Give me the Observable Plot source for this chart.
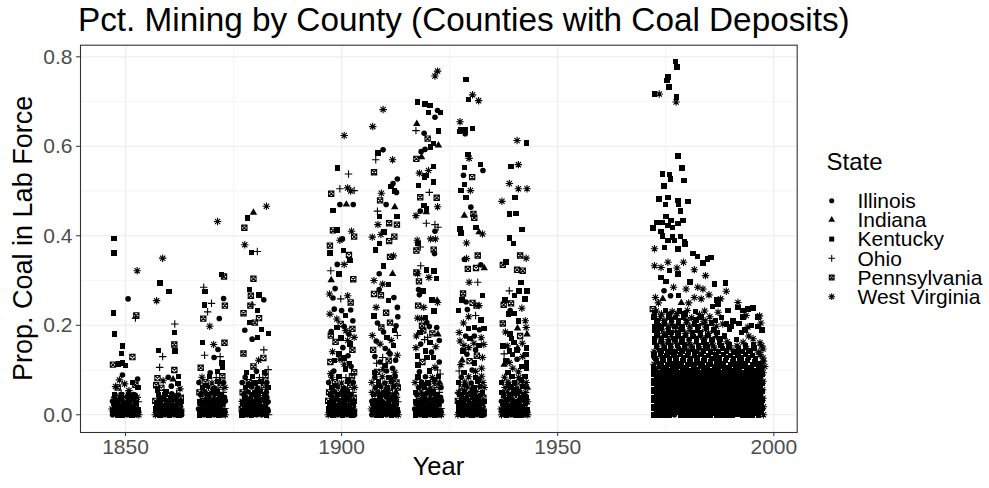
<!DOCTYPE html>
<html>
<head>
<meta charset="utf-8">
<script src="https://cdn.jsdelivr.net/npm/d3@7"></script>
<script src="https://cdn.jsdelivr.net/npm/@observablehq/plot@0.6"></script>
<style>
html, body { margin: 0; padding: 0; background: #ffffff; }
#chart { position: relative; width: 989px; height: 488px; font-family: "Liberation Sans", Arial, Helvetica, sans-serif; }
#chart svg { position: absolute; left: 0; top: 0; }
</style>
</head>
<body>
<div id="chart"></div>
<script>
// States in legend order
const states = [
  {code: "IL", name: "Illinois"},
  {code: "IN", name: "Indiana"},
  {code: "KY", name: "Kentucky"},
  {code: "OH", name: "Ohio"},
  {code: "PA", name: "Pennsylvania"},
  {code: "WV", name: "West Virginia"}
];

const titleText = "Pct. Mining by County (Counties with Coal Deposits)";
const xLabel = "Year";
const yLabel = "Prop. Coal in Lab Force";
const legendTitle = "State";

const xTicks = [1850, 1900, 1950, 2000];
const xMinorTicks = [1875, 1925, 1975];
const yTicks = [0, 0.2, 0.4, 0.6, 0.8];
const yMinorTicks = [0.1, 0.3, 0.5, 0.7];

// County observations: [jittered year, share of labour force in coal, state]
const census1850 = [
  [1847.3,.394,"KY"],[1847.3,.362,"KY"],[1852.7,.322,"WV"],[1850.6,.259,"IL"],[1847.2,.227,"KY"],[1852.5,.222,"PA"],[1852.3,.216,"OH"],[1847.5,.180,"KY"],[1849.3,.154,"KY"],[1849.1,.137,"KY"],[1851.6,.129,"PA"],[1847.1,.112,"PA"],[1848.4,.114,"KY"],[1849.3,.116,"KY"],[1850.0,.110,"KY"],[1849.3,.089,"IL"],
  [1847.7,.063,"WV"],[1849.8,.069,"WV"],[1848.2,.061,"PA"],[1852.3,.067,"PA"],[1851.6,.072,"KY"],[1852.9,.061,"KY"],[1850.8,.054,"WV"],[1849.0,.048,"OH"],[1851.9,.045,"IL"],[1847.4,.042,"IN"],[1852.8,.080,"IL"],[1848.6,.078,"WV"],
  [1847.0,0,"IL"],[1848.1,0,"KY"],[1849.2,0,"KY"],[1850.4,0,"IL"],[1851.5,0,"KY"],[1852.6,0,"IL"],[1853.1,0,"WV"],
  [1847.5,.006,"KY"],[1848.7,.005,"IL"],[1849.9,.007,"KY"],[1851.0,.006,"IL"],[1852.2,.005,"IN"],
  [1846.9,.013,"WV"],[1848.0,.014,"KY"],[1849.3,.012,"IL"],[1850.5,.013,"KY"],[1851.7,.015,"IL"],[1852.9,.012,"KY"],
  [1847.4,.021,"KY"],[1848.6,.022,"IL"],[1849.8,.020,"KY"],[1851.1,.021,"IL"],[1852.4,.023,"PA"],
  [1847.0,.030,"IL"],[1848.2,.031,"KY"],[1849.5,.029,"IL"],[1850.8,.030,"KY"],[1852.0,.032,"IL"],[1853.0,.029,"OH"],
  [1847.7,.039,"PA"],[1849.0,.038,"KY"],[1850.3,.040,"IL"],[1851.5,.037,"KY"],[1852.7,.039,"WV"],
  [1847.6,.003,"KY"],[1849.7,.002,"IL"],[1851.9,.003,"KY"],[1848.6,.017,"IL"],[1850.9,.017,"KY"],[1847.2,.026,"KY"],[1850.2,.025,"IL"],[1852.6,.026,"KY"],[1848.8,.034,"IL"],[1851.4,.034,"KY"],[1847.4,.045,"KY"],[1852.2,.044,"IL"],
  [1847.1,.009,"KY"],[1848.3,.010,"IL"],[1849.5,.009,"KY"],[1850.8,.010,"IL"],[1852.0,.009,"KY"],[1853.0,.008,"IL"],[1847.9,.028,"IL"],[1849.8,.018,"KY"],[1851.9,.018,"IL"],[1849.1,.045,"KY"],[1850.7,.047,"IL"]
];

const census1860 = [
  [1858.6,.350,"WV"],[1858.0,.294,"KY"],[1860.1,.276,"KY"],[1857.2,.255,"WV"],[1861.4,.203,"OH"],[1861.3,.184,"KY"],[1861.3,.157,"PA"],[1857.6,.144,"KY"],[1861.5,.142,"KY"],[1858.6,.130,"OH"],[1857.9,.106,"OH"],[1861.3,.100,"PA"],[1862.3,.085,"KY"],
  [1857.4,.082,"PA"],[1858.7,.076,"WV"],[1859.9,.084,"IL"],[1861.0,.079,"IN"],[1862.2,.070,"KY"],[1857.1,.066,"PA"],[1858.3,.060,"PA"],[1860.6,.064,"IL"],[1862.6,.058,"WV"],[1859.4,.052,"KY"],[1861.8,.047,"OH"],[1857.6,.045,"KY"],
  [1856.9,0,"WV"],[1858.0,0,"KY"],[1859.1,0,"IL"],[1860.2,0,"KY"],[1861.3,0,"IL"],[1862.4,0,"KY"],[1863.0,0,"IL"],
  [1857.4,.007,"IL"],[1858.6,.006,"KY"],[1859.7,.005,"IL"],[1860.8,.007,"KY"],[1862.0,.006,"IN"],
  [1857.0,.014,"KY"],[1858.1,.013,"IL"],[1859.2,.015,"KY"],[1860.4,.012,"IL"],[1861.6,.014,"KY"],[1862.8,.013,"WV"],
  [1857.6,.022,"IL"],[1858.8,.021,"KY"],[1860.0,.023,"IL"],[1861.2,.020,"KY"],[1862.5,.022,"PA"],
  [1856.9,.031,"PA"],[1858.1,.030,"KY"],[1859.4,.032,"IL"],[1860.7,.029,"KY"],[1861.9,.031,"IL"],[1863.0,.030,"KY"],
  [1857.8,.040,"IL"],[1859.1,.041,"WV"],[1860.4,.039,"KY"],[1861.6,.040,"IL"],[1862.8,.038,"PA"],
  [1857.6,.003,"KY"],[1859.7,.002,"IL"],[1861.9,.003,"KY"],[1858.6,.017,"IL"],[1860.9,.017,"KY"],[1857.2,.026,"KY"],[1860.2,.025,"IL"],[1862.6,.026,"KY"],[1858.8,.034,"IL"],[1861.4,.034,"KY"],[1857.4,.055,"KY"],[1862.2,.044,"IL"],
  [1857.1,.009,"KY"],[1858.3,.010,"IL"],[1859.5,.009,"KY"],[1860.8,.010,"IL"],[1862.0,.009,"KY"],[1863.0,.008,"IL"],[1857.9,.028,"IL"],[1859.8,.018,"KY"],[1861.9,.018,"IL"],[1859.1,.045,"KY"],[1860.7,.047,"IL"]
];

const census1870 = [
  [1871.3,.432,"WV"],[1868.1,.285,"OH"],[1868.4,.275,"KY"],[1872.8,.309,"PA"],[1872.2,.313,"KY"],[1869.9,.249,"OH"],[1868.3,.245,"KY"],[1873.0,.244,"PA"],[1872.7,.260,"IL"],[1869.0,.230,"OH"],[1871.7,.215,"IL"],[1868.0,.215,"PA"],[1869.5,.198,"WV"],[1867.8,.162,"KY"],[1870.4,.157,"WV"],[1872.9,.161,"PA"],[1871.4,.146,"IL"],[1868.3,.133,"OH"],[1871.9,.130,"OH"],[1870.5,.128,"IL"],[1867.4,.105,"PA"],[1872.5,.106,"KY"],[1872.3,.116,"KY"],[1869.6,.094,"IL"],[1871.3,.097,"KY"],
  [1867.1,0,"KY"],[1868.2,0,"IL"],[1869.3,0,"KY"],[1870.5,0,"IL"],[1871.6,0,"KY"],[1872.7,0,"IL"],[1873.1,0,"WV"],
  [1867.6,.006,"IL"],[1868.8,.007,"KY"],[1870.0,.005,"IL"],[1871.1,.006,"KY"],[1872.3,.007,"PA"],
  [1866.9,.013,"IL"],[1868.1,.012,"KY"],[1869.4,.014,"IL"],[1870.6,.013,"KY"],[1871.8,.012,"IL"],[1873.0,.014,"OH"],
  [1867.5,.021,"WV"],[1868.7,.022,"KY"],[1869.9,.021,"IL"],[1871.2,.020,"KY"],[1872.5,.022,"IL"],
  [1867.1,.030,"KY"],[1868.3,.029,"IL"],[1869.6,.031,"KY"],[1870.9,.030,"IL"],[1872.1,.029,"KY"],[1873.1,.031,"IL"],
  [1867.9,.039,"PA"],[1869.2,.040,"IL"],[1870.5,.038,"WV"],[1871.7,.040,"KY"],[1872.9,.039,"IL"],
  [1867.1,.050,"PA"],[1868.4,.051,"IL"],[1869.8,.049,"WV"],[1871.2,.052,"KY"],[1872.6,.050,"OH"],
  [1867.8,.061,"KY"],[1869.2,.062,"WV"],[1870.6,.060,"IL"],[1872.0,.063,"PA"],[1873.0,.061,"WV"],
  [1867.0,.072,"IL"],[1868.5,.073,"PA"],[1870.0,.071,"WV"],[1871.4,.074,"KY"],[1872.7,.072,"IL"],
  [1867.7,.084,"WV"],[1869.4,.085,"KY"],[1871.0,.083,"OH"],[1872.4,.086,"PA"],
  [1867.6,.003,"IL"],[1869.7,.002,"KY"],[1871.9,.003,"IL"],[1868.6,.017,"KY"],[1870.9,.017,"IL"],[1867.2,.026,"IL"],[1870.2,.025,"KY"],[1872.6,.026,"IL"],[1868.8,.034,"KY"],[1871.4,.034,"IL"],[1867.4,.045,"IL"],[1872.2,.044,"KY"],[1870.4,.056,"KY"],[1868.6,.066,"IL"],
  [1867.1,.009,"KY"],[1868.3,.010,"IL"],[1869.5,.009,"KY"],[1870.8,.010,"IL"],[1872.0,.009,"KY"],[1873.0,.008,"IL"],[1867.9,.028,"IL"],[1869.8,.018,"KY"],[1871.9,.018,"IL"],[1869.1,.045,"KY"],[1870.7,.047,"IL"]
];

const census1880 = [
  [1879.6,.452,"IN"],[1878.2,.440,"KY"],[1882.6,.466,"WV"],[1877.5,.418,"PA"],[1877.6,.380,"WV"],[1879.2,.363,"KY"],[1880.5,.365,"OH"],[1879.6,.304,"PA"],[1878.7,.280,"KY"],[1879.0,.266,"PA"],[1880.9,.268,"KY"],[1882.0,.257,"IL"],[1877.3,.227,"PA"],[1880.5,.233,"KY"],[1879.3,.246,"OH"],[1878.9,.244,"PA"],[1880.9,.216,"PA"],[1879.9,.206,"PA"],[1878.7,.206,"KY"],[1883.1,.182,"KY"],[1881.5,.191,"KY"],[1877.6,.189,"IL"],[1879.3,.169,"IL"],[1880.5,.173,"KY"],[1882.0,.145,"OH"],[1883.0,.101,"OH"],[1877.3,.137,"PA"],[1881.9,.127,"PA"],[1879.6,.108,"PA"],[1880.8,.122,"WV"],
  [1877.0,0,"KY"],[1878.1,0,"IL"],[1879.2,0,"KY"],[1880.4,0,"IL"],[1881.5,0,"IL"],[1882.6,0,"KY"],[1883.1,0,"OH"],
  [1877.5,.006,"IL"],[1878.7,.005,"KY"],[1879.9,.007,"KY"],[1881.0,.006,"IL"],[1882.2,.005,"WV"],
  [1876.9,.013,"PA"],[1878.0,.014,"KY"],[1879.3,.012,"IL"],[1880.5,.013,"KY"],[1881.7,.015,"KY"],[1882.9,.012,"IL"],
  [1877.4,.021,"IL"],[1878.6,.022,"KY"],[1879.8,.020,"IL"],[1881.1,.021,"IL"],[1882.4,.023,"KY"],
  [1877.0,.030,"WV"],[1878.2,.031,"IL"],[1879.5,.029,"KY"],[1880.8,.030,"IL"],[1882.0,.032,"KY"],[1883.0,.029,"IL"],
  [1877.7,.039,"KY"],[1879.0,.038,"IL"],[1880.3,.040,"KY"],[1881.5,.037,"PA"],[1882.7,.039,"IL"],
  [1877.1,.050,"PA"],[1878.4,.051,"IL"],[1879.8,.049,"KY"],[1881.2,.052,"KY"],[1882.6,.050,"IL"],
  [1877.8,.061,"KY"],[1879.2,.062,"IL"],[1880.6,.060,"IL"],[1882.0,.063,"PA"],[1883.0,.061,"KY"],
  [1877.0,.072,"IL"],[1878.5,.073,"PA"],[1880.0,.071,"KY"],[1881.4,.074,"KY"],[1882.7,.072,"IL"],
  [1877.7,.084,"IL"],[1879.4,.085,"KY"],[1881.0,.083,"OH"],[1882.4,.086,"PA"],
  [1878.0,.095,"KY"],[1880.3,.097,"IL"],[1882.2,.094,"KY"],
  [1877.6,.003,"IL"],[1879.7,.002,"KY"],[1881.9,.003,"IL"],[1878.6,.017,"IL"],[1880.9,.017,"KY"],[1877.2,.026,"KY"],[1880.2,.025,"IL"],[1882.6,.026,"IL"],[1878.8,.034,"KY"],[1881.4,.034,"IL"],[1877.4,.045,"IL"],[1882.2,.044,"KY"],[1880.4,.056,"IL"],[1878.6,.066,"KY"],
  [1877.1,.009,"KY"],[1878.3,.010,"IL"],[1879.5,.009,"KY"],[1880.8,.010,"IL"],[1882.0,.009,"KY"],[1883.0,.008,"IL"],[1877.9,.028,"IL"],[1879.8,.018,"KY"],[1881.9,.018,"IL"],[1879.1,.045,"KY"],[1880.7,.047,"IL"]
];

const census1900 = [
  [1900.6,.624,"WV"],[1899.0,.551,"KY"],[1901.6,.538,"OH"],[1897.6,.494,"PA"],[1899.6,.505,"OH"],[1901.4,.507,"WV"],[1902.1,.500,"WV"],[1902.9,.501,"OH"],[1899.6,.470,"IL"],[1902.7,.470,"IL"],[1901.1,.470,"IN"],[1898.0,.456,"KY"],[1898.9,.413,"KY"],[1898.0,.412,"PA"],[1902.3,.410,"WV"],[1902.9,.398,"PA"],[1900.2,.393,"IL"],[1899.6,.390,"WV"],[1897.3,.378,"PA"],[1897.3,.361,"KY"],[1900.4,.367,"KY"],[1901.7,.357,"PA"],[1902.0,.345,"KY"],[1899.0,.336,"IL"],[1900.6,.336,"WV"],[1897.5,.322,"OH"],[1899.4,.315,"KY"],[1902.7,.303,"PA"],[1897.6,.301,"IN"],[1897.2,.270,"WV"],[1898.5,.282,"IL"],
  [1898.0,.261,"IL"],[1899.8,.259,"OH"],[1901.4,.266,"WV"],[1902.1,.251,"PA"],[1898.3,.236,"IL"],[1900.0,.233,"IL"],[1902.1,.234,"IL"],[1897.3,.225,"WV"],[1899.8,.203,"PA"],[1898.9,.195,"KY"],[1900.6,.197,"IL"],[1902.5,.192,"PA"],[1897.5,.177,"PA"],[1901.7,.180,"IL"],[1902.9,.173,"WV"],[1901.4,.166,"WV"],[1899.4,.136,"KY"],[1900.6,.127,"KY"],[1898.3,.121,"KY"],[1902.5,.145,"PA"],[1902.9,.095,"PA"],[1897.5,.092,"WV"],[1900.6,.113,"WV"],[1901.8,.115,"KY"],
  [1898.2,.098,"IL"],[1900.9,.102,"KY"],[1902.2,.108,"IL"],[1897.4,.118,"PA"],[1899.6,.124,"WV"],[1901.5,.132,"IL"],[1897.9,.141,"WV"],[1900.3,.150,"IL"],[1902.0,.158,"KY"],[1898.6,.163,"PA"],[1899.9,.172,"KY"],[1897.6,.186,"IL"],[1901.0,.188,"WV"],[1902.6,.210,"IL"],[1898.9,.214,"WV"],[1900.9,.222,"KY"],
  [1896.9,0,"WV"],[1898.0,0,"KY"],[1899.1,0,"IL"],[1900.2,0,"KY"],[1901.3,0,"IL"],[1902.4,0,"KY"],[1903.0,0,"IL"],
  [1897.4,.007,"IL"],[1898.6,.006,"KY"],[1899.7,.005,"IL"],[1900.8,.007,"KY"],[1902.0,.006,"IN"],
  [1897.0,.014,"KY"],[1898.1,.013,"IL"],[1899.2,.015,"KY"],[1900.4,.012,"IL"],[1901.6,.014,"KY"],[1902.8,.013,"WV"],
  [1897.6,.022,"IL"],[1898.8,.021,"KY"],[1900.0,.023,"IL"],[1901.2,.020,"KY"],[1902.5,.022,"PA"],
  [1896.9,.031,"PA"],[1898.1,.030,"KY"],[1899.4,.032,"IL"],[1900.7,.029,"KY"],[1901.9,.031,"IL"],[1903.0,.030,"KY"],
  [1897.8,.040,"IL"],[1899.1,.041,"WV"],[1900.4,.039,"KY"],[1901.6,.040,"IL"],[1902.8,.038,"PA"],
  [1897.1,.050,"PA"],[1898.4,.051,"IL"],[1899.8,.049,"WV"],[1901.2,.052,"KY"],[1902.6,.050,"OH"],
  [1897.8,.061,"KY"],[1899.2,.062,"WV"],[1900.6,.060,"IL"],[1902.0,.063,"PA"],[1903.0,.061,"WV"],
  [1897.0,.072,"IL"],[1898.5,.073,"PA"],[1900.0,.071,"WV"],[1901.4,.074,"KY"],[1902.7,.072,"IL"],
  [1897.7,.084,"WV"],[1899.4,.085,"KY"],[1901.0,.083,"OH"],[1902.4,.086,"PA"],
  [1897.6,.003,"KY"],[1899.7,.002,"IL"],[1901.9,.003,"KY"],[1898.6,.017,"IL"],[1900.9,.017,"KY"],[1897.2,.026,"KY"],[1900.2,.025,"IL"],[1902.6,.026,"KY"],[1898.8,.034,"IL"],[1901.4,.034,"KY"],[1897.4,.045,"KY"],[1902.2,.044,"IL"],[1900.4,.056,"KY"],[1898.6,.066,"IL"],[1901.6,.078,"KY"],
  [1897.1,.009,"KY"],[1898.3,.010,"IL"],[1899.5,.009,"KY"],[1900.8,.010,"IL"],[1902.0,.009,"KY"],[1903.0,.008,"IL"],[1897.9,.028,"IL"],[1899.8,.018,"KY"],[1901.9,.018,"IL"],[1899.1,.045,"KY"],[1900.7,.047,"IL"]
];

const census1910 = [
  [1909.6,.682,"WV"],[1907.2,.644,"WV"],[1908.4,.585,"KY"],[1909.6,.592,"IL"],[1907.9,.570,"OH"],[1911.8,.570,"WV"],[1907.5,.542,"PA"],[1912.9,.527,"IL"],[1911.4,.510,"KY"],[1912.2,.500,"KY"],[1912.7,.497,"IL"],[1911.9,.517,"IL"],[1909.2,.495,"WV"],[1908.9,.479,"PA"],[1910.3,.470,"IL"],[1912.3,.464,"IN"],[1908.3,.455,"OH"],[1908.8,.443,"KY"],[1912.8,.443,"KY"],[1911.0,.428,"PA"],[1912.8,.425,"PA"],[1908.4,.425,"WV"],[1909.8,.408,"KY"],[1907.1,.397,"WV"],[1909.1,.403,"WV"],[1912.2,.398,"PA"],[1908.8,.383,"KY"],[1907.9,.368,"KY"],[1911.0,.388,"PA"],[1911.2,.353,"PA"],[1912.0,.355,"WV"],
  [1909.7,.333,"KY"],[1911.8,.315,"IN"],[1908.7,.315,"IL"],[1907.5,.300,"WV"],[1909.5,.292,"WV"],[1907.5,.270,"PA"],[1909.1,.267,"PA"],[1908.7,.280,"IL"],[1910.8,.291,"KY"],[1910.8,.255,"KY"],[1912.9,.240,"IL"],[1913.0,.219,"IL"],[1907.5,.221,"KY"],[1909.2,.195,"PA"],[1911.2,.206,"PA"],[1912.6,.199,"IL"],[1910.5,.173,"KY"],[1912.9,.177,"OH"],[1907.1,.177,"WV"],[1908.9,.158,"WV"],[1911.2,.136,"IL"],[1911.0,.140,"IN"],[1907.7,.130,"IL"],[1909.5,.128,"OH"],[1908.1,.115,"OH"],[1912.5,.122,"IL"],[1910.0,.110,"KY"],
  [1907.6,.095,"KY"],[1909.6,.101,"WV"],[1911.8,.104,"IL"],[1908.9,.118,"IL"],[1910.9,.121,"PA"],[1912.9,.133,"WV"],[1907.3,.145,"PA"],[1910.1,.148,"IL"],[1912.0,.155,"KY"],[1908.0,.165,"IL"],[1911.5,.166,"WV"],[1909.7,.185,"IL"],[1912.2,.188,"KY"],[1908.3,.205,"IL"],[1910.3,.228,"PA"],[1912.1,.262,"IL"],[1908.0,.240,"WV"],
  [1907.0,0,"IL"],[1908.1,0,"KY"],[1909.2,0,"KY"],[1910.4,0,"IL"],[1911.5,0,"KY"],[1912.6,0,"IL"],[1913.1,0,"WV"],
  [1907.5,.006,"KY"],[1908.7,.005,"IL"],[1909.9,.007,"KY"],[1911.0,.006,"IL"],[1912.2,.005,"IN"],
  [1906.9,.013,"WV"],[1908.0,.014,"KY"],[1909.3,.012,"IL"],[1910.5,.013,"KY"],[1911.7,.015,"IL"],[1912.9,.012,"KY"],
  [1907.4,.021,"KY"],[1908.6,.022,"IL"],[1909.8,.020,"KY"],[1911.1,.021,"IL"],[1912.4,.023,"PA"],
  [1907.0,.030,"IL"],[1908.2,.031,"KY"],[1909.5,.029,"IL"],[1910.8,.030,"KY"],[1912.0,.032,"IL"],[1913.0,.029,"OH"],
  [1907.7,.039,"PA"],[1909.0,.038,"KY"],[1910.3,.040,"IL"],[1911.5,.037,"KY"],[1912.7,.039,"WV"],
  [1907.1,.050,"WV"],[1908.4,.051,"IL"],[1909.8,.049,"KY"],[1911.2,.052,"PA"],[1912.6,.050,"IN"],
  [1907.8,.061,"IL"],[1909.2,.062,"WV"],[1910.6,.060,"KY"],[1912.0,.063,"IL"],[1913.0,.061,"PA"],
  [1907.0,.072,"WV"],[1908.5,.073,"KY"],[1910.0,.071,"IL"],[1911.4,.074,"WV"],[1912.7,.072,"PA"],
  [1907.7,.084,"IL"],[1909.4,.085,"WV"],[1911.0,.083,"KY"],[1912.4,.086,"IL"],
  [1908.2,.096,"PA"],[1910.4,.098,"IL"],[1912.3,.095,"WV"],
  [1907.6,.003,"KY"],[1909.7,.002,"IL"],[1911.9,.003,"KY"],[1908.6,.017,"IL"],[1910.9,.017,"KY"],[1907.2,.026,"KY"],[1910.2,.025,"IL"],[1912.6,.026,"KY"],[1908.8,.034,"IL"],[1911.4,.034,"KY"],[1907.4,.045,"KY"],[1912.2,.044,"IL"],[1910.4,.056,"KY"],[1908.6,.066,"IL"],[1911.6,.078,"KY"],
  [1907.1,.009,"KY"],[1908.3,.010,"IL"],[1909.5,.009,"KY"],[1910.8,.010,"IL"],[1912.0,.009,"KY"],[1913.0,.008,"IL"],[1907.9,.028,"IL"],[1909.8,.018,"KY"],[1911.9,.018,"IL"],[1909.1,.045,"KY"],[1910.7,.047,"IL"]
];

const census1920 = [
  [1922.2,.768,"WV"],[1921.6,.757,"WV"],[1917.6,.699,"KY"],[1919.3,.695,"KY"],[1920.4,.691,"KY"],[1920.1,.676,"KY"],[1922.9,.675,"KY"],[1922.2,.680,"IL"],[1921.6,.665,"IL"],[1917.4,.650,"IN"],[1917.2,.635,"OH"],[1922.4,.634,"KY"],[1919.1,.629,"IL"],[1919.9,.617,"PA"],[1921.3,.606,"KY"],[1922.4,.602,"IN"],[1920.6,.598,"KY"],[1919.3,.593,"IL"],[1918.4,.588,"IL"],[1917.3,.572,"PA"],[1918.5,.576,"IN"],[1921.3,.555,"KY"],[1918.0,.540,"WV"],[1920.1,.546,"WV"],[1919.5,.535,"KY"],[1919.2,.531,"KY"],[1917.8,.512,"KY"],[1921.3,.520,"KY"],[1920.3,.497,"OH"],[1918.2,.486,"PA"],[1922.0,.485,"PA"],
  [1922.2,.465,"WV"],[1919.1,.468,"KY"],[1919.6,.453,"IN"],[1917.2,.445,"WV"],[1918.2,.455,"IL"],[1919.6,.460,"KY"],[1919.6,.428,"OH"],[1921.6,.425,"OH"],[1922.3,.419,"OH"],[1921.6,.410,"IL"],[1920.6,.393,"WV"],[1921.7,.393,"WV"],[1917.5,.390,"WV"],[1917.7,.383,"KY"],[1917.3,.367,"PA"],[1918.2,.375,"OH"],[1921.3,.369,"PA"],[1921.5,.360,"IL"],[1918.3,.333,"OH"],[1917.3,.318,"PA"],[1919.7,.324,"KY"],[1921.4,.321,"KY"],[1922.0,.304,"KY"],[1917.6,.315,"WV"],[1920.2,.307,"WV"],[1917.9,.298,"PA"],
  [1917.8,.280,"IL"],[1918.8,.277,"KY"],[1918.0,.268,"IL"],[1920.9,.257,"KY"],[1922.1,.255,"IN"],[1922.2,.251,"WV"],[1917.7,.244,"PA"],[1917.6,.216,"WV"],[1918.5,.215,"WV"],[1919.4,.217,"KY"],[1918.6,.199,"PA"],[1920.3,.197,"IL"],[1922.0,.195,"IL"],[1918.1,.184,"KY"],[1919.9,.173,"OH"],[1919.2,.168,"OH"],[1922.3,.180,"IN"],[1918.9,.188,"PA"],[1919.4,.143,"KY"],[1917.2,.150,"WV"],[1921.3,.128,"KY"],[1919.8,.128,"KY"],[1922.8,.091,"OH"],[1922.2,.100,"OH"],[1917.7,.111,"KY"],
  [1918.0,.096,"IL"],[1920.3,.098,"KY"],[1921.6,.106,"WV"],[1918.7,.118,"PA"],[1920.8,.140,"IL"],[1922.6,.118,"IL"],[1917.6,.131,"KY"],[1921.8,.152,"WV"],[1918.3,.158,"IL"],[1920.5,.162,"KY"],[1922.6,.166,"IL"],[1917.3,.176,"WV"],[1921.0,.182,"PA"],[1919.7,.206,"IL"],[1921.4,.232,"KY"],[1919.0,.240,"WV"],
  [1917.1,0,"KY"],[1918.2,0,"IL"],[1919.3,0,"KY"],[1920.5,0,"IL"],[1921.6,0,"KY"],[1922.7,0,"IL"],[1923.1,0,"WV"],
  [1917.6,.006,"IL"],[1918.8,.007,"KY"],[1920.0,.005,"IL"],[1921.1,.006,"KY"],[1922.3,.007,"PA"],
  [1916.9,.013,"IL"],[1918.1,.012,"KY"],[1919.4,.014,"IL"],[1920.6,.013,"KY"],[1921.8,.012,"IL"],[1923.0,.014,"OH"],
  [1917.5,.021,"WV"],[1918.7,.022,"KY"],[1919.9,.021,"IL"],[1921.2,.020,"KY"],[1922.5,.022,"IL"],
  [1917.1,.030,"KY"],[1918.3,.029,"IL"],[1919.6,.031,"KY"],[1920.9,.030,"IL"],[1922.1,.029,"KY"],[1923.1,.031,"IL"],
  [1917.9,.039,"PA"],[1919.2,.040,"IL"],[1920.5,.038,"WV"],[1921.7,.040,"KY"],[1922.9,.039,"IL"],
  [1917.1,.050,"KY"],[1918.4,.051,"WV"],[1919.8,.049,"IL"],[1921.2,.052,"KY"],[1922.6,.050,"OH"],
  [1917.8,.061,"IL"],[1919.2,.062,"KY"],[1920.6,.060,"WV"],[1922.0,.063,"PA"],[1923.0,.061,"IL"],
  [1917.0,.072,"WV"],[1918.5,.073,"IL"],[1920.0,.071,"KY"],[1921.4,.074,"WV"],[1922.7,.072,"IN"],
  [1917.7,.084,"KY"],[1919.4,.085,"IL"],[1921.0,.083,"WV"],[1922.4,.086,"KY"],
  [1917.6,.003,"IL"],[1919.7,.002,"KY"],[1921.9,.003,"IL"],[1918.6,.017,"KY"],[1920.9,.017,"IL"],[1917.2,.026,"IL"],[1920.2,.025,"KY"],[1922.6,.026,"IL"],[1918.8,.034,"KY"],[1921.4,.034,"IL"],[1917.4,.045,"IL"],[1922.2,.044,"KY"],[1920.4,.056,"IL"],[1918.6,.066,"KY"],[1921.6,.078,"IL"],
  [1917.1,.009,"KY"],[1918.3,.010,"IL"],[1919.5,.009,"KY"],[1920.8,.010,"IL"],[1922.0,.009,"KY"],[1923.0,.008,"IL"],[1917.9,.028,"IL"],[1919.8,.018,"KY"],[1921.9,.018,"IL"],[1919.1,.045,"KY"],[1920.7,.047,"IL"]
];

const census1930 = [
  [1928.8,.749,"KY"],[1930.3,.715,"WV"],[1931.7,.702,"WV"],[1929.4,.704,"KY"],[1927.4,.655,"WV"],[1927.6,.638,"KY"],[1928.6,.636,"KY"],[1930.3,.640,"KY"],[1927.3,.633,"KY"],[1928.6,.628,"IL"],[1929.5,.573,"WV"],[1929.3,.582,"KY"],[1928.4,.553,"KY"],[1932.1,.559,"KY"],[1932.7,.546,"IL"],[1928.2,.535,"IL"],[1930.2,.531,"PA"],[1928.4,.515,"KY"],[1927.6,.501,"KY"],[1929.8,.501,"WV"],[1928.8,.485,"KY"],
  [1929.9,.464,"IL"],[1928.4,.445,"IN"],[1930.5,.449,"PA"],[1930.7,.440,"PA"],[1927.4,.415,"KY"],[1931.1,.419,"KY"],[1927.6,.406,"KY"],[1931.8,.408,"IN"],[1932.6,.404,"WV"],[1928.9,.384,"WV"],[1931.5,.356,"PA"],[1929.2,.326,"PA"],[1931.1,.328,"PA"],[1928.4,.347,"IL"],[1928.9,.349,"WV"],[1933.0,.328,"IN"],[1932.2,.335,"IL"],
  [1929.5,.296,"WV"],[1931.5,.296,"OH"],[1932.6,.266,"KY"],[1928.1,.271,"PA"],[1927.8,.257,"KY"],[1927.1,.233,"KY"],[1929.1,.235,"IL"],[1931.8,.244,"WV"],[1930.3,.250,"PA"],[1931.2,.244,"PA"],[1929.4,.219,"WV"],[1931.0,.222,"OH"],[1929.4,.193,"KY"],[1930.7,.195,"KY"],[1932.9,.193,"KY"],[1927.2,.184,"WV"],[1930.7,.176,"IL"],[1932.9,.157,"WV"],[1930.6,.160,"WV"],[1929.4,.150,"WV"],[1928.3,.155,"WV"],[1929.7,.170,"KY"],[1931.8,.155,"KY"],[1931.3,.132,"PA"],[1927.9,.122,"IN"],[1929.6,.120,"PA"],[1927.2,.098,"OH"],[1931.0,.097,"WV"],[1927.0,.048,"OH"],
  [1928.3,.095,"KY"],[1930.2,.100,"IL"],[1932.4,.104,"WV"],[1927.6,.112,"WV"],[1929.0,.135,"IL"],[1930.8,.116,"KY"],[1932.6,.128,"WV"],[1928.1,.142,"KY"],[1931.0,.145,"IL"],[1927.4,.165,"WV"],[1932.3,.172,"WV"],[1928.7,.176,"IL"],[1931.9,.190,"IL"],[1928.2,.205,"WV"],[1932.3,.212,"KY"],[1928.8,.252,"IL"],
  [1926.9,0,"WV"],[1928.0,0,"KY"],[1929.1,0,"IL"],[1930.2,0,"KY"],[1931.3,0,"IL"],[1932.4,0,"KY"],[1933.0,0,"IL"],
  [1927.4,.007,"IL"],[1928.6,.006,"KY"],[1929.7,.005,"IL"],[1930.8,.007,"KY"],[1932.0,.006,"IN"],
  [1927.0,.014,"KY"],[1928.1,.013,"IL"],[1929.2,.015,"KY"],[1930.4,.012,"IL"],[1931.6,.014,"KY"],[1932.8,.013,"WV"],
  [1927.6,.022,"IL"],[1928.8,.021,"KY"],[1930.0,.023,"IL"],[1931.2,.020,"KY"],[1932.5,.022,"PA"],
  [1926.9,.031,"PA"],[1928.1,.030,"KY"],[1929.4,.032,"IL"],[1930.7,.029,"KY"],[1931.9,.031,"IL"],[1933.0,.030,"KY"],
  [1927.8,.040,"IL"],[1929.1,.041,"WV"],[1930.4,.039,"KY"],[1931.6,.040,"IL"],[1932.8,.038,"PA"],
  [1927.1,.050,"WV"],[1928.4,.051,"KY"],[1929.8,.049,"IL"],[1931.2,.052,"WV"],[1932.6,.050,"KY"],
  [1927.8,.061,"PA"],[1929.2,.062,"WV"],[1930.6,.060,"KY"],[1932.0,.063,"IL"],[1933.0,.061,"WV"],
  [1927.0,.072,"KY"],[1928.5,.073,"WV"],[1930.0,.071,"IL"],[1931.4,.074,"KY"],[1932.7,.072,"WV"],
  [1927.7,.084,"IL"],[1929.4,.085,"WV"],[1931.0,.083,"KY"],[1932.4,.086,"WV"],
  [1927.6,.003,"KY"],[1929.7,.002,"IL"],[1931.9,.003,"KY"],[1928.6,.017,"IL"],[1930.9,.017,"KY"],[1927.2,.026,"KY"],[1930.2,.025,"IL"],[1932.6,.026,"KY"],[1928.8,.034,"IL"],[1931.4,.034,"KY"],[1927.4,.045,"KY"],[1932.2,.044,"IL"],[1930.4,.056,"KY"],[1928.6,.066,"IL"],[1931.6,.078,"KY"],
  [1927.1,.009,"KY"],[1928.3,.010,"IL"],[1929.5,.009,"KY"],[1930.8,.010,"IL"],[1932.0,.009,"KY"],[1933.0,.008,"IL"],[1927.9,.028,"IL"],[1929.8,.018,"KY"],[1931.9,.018,"IL"],[1929.1,.045,"KY"],[1930.7,.047,"IL"]
];

const census1940 = [
  [1940.6,.613,"WV"],[1942.8,.607,"KY"],[1939.2,.555,"KY"],[1940.9,.559,"WV"],[1938.8,.517,"WV"],[1940.9,.505,"WV"],[1942.9,.505,"WV"],[1937.1,.477,"WV"],[1940.1,.486,"KY"],[1938.8,.449,"KY"],[1940.3,.450,"KY"],[1941.7,.414,"KY"],[1938.8,.395,"KY"],[1939.8,.383,"KY"],[1941.3,.356,"PA"],[1942.7,.350,"WV"],[1938.0,.341,"KY"],[1937.3,.335,"PA"],[1940.6,.324,"PA"],[1941.9,.322,"PA"],[1941.5,.296,"KY"],
  [1942.9,.277,"KY"],[1941.1,.277,"KY"],[1940.0,.266,"KY"],[1942.4,.259,"KY"],[1937.8,.257,"KY"],[1938.8,.277,"OH"],[1937.5,.246,"PA"],[1939.2,.249,"PA"],[1939.0,.233,"IL"],[1938.6,.225,"KY"],[1939.9,.226,"KY"],[1937.3,.204,"PA"],[1939.0,.180,"KY"],[1939.3,.171,"KY"],[1942.7,.195,"WV"],[1942.5,.210,"WV"],[1940.7,.193,"IN"],[1942.9,.180,"IN"],[1937.3,.154,"KY"],[1938.8,.143,"KY"],[1938.3,.154,"WV"],[1937.6,.136,"OH"],[1938.0,.120,"KY"],[1940.6,.145,"KY"],[1942.8,.149,"KY"],[1942.7,.135,"KY"],[1940.7,.149,"IN"],[1937.6,.112,"IN"],[1942.8,.117,"KY"],[1942.8,.105,"KY"],
  [1939.6,.104,"WV"],[1941.6,.108,"KY"],[1938.8,.117,"WV"],[1940.6,.124,"IL"],[1941.9,.130,"WV"],[1939.5,.135,"KY"],[1941.8,.160,"WV"],[1939.9,.162,"KY"],[1941.3,.176,"PA"],[1937.9,.185,"WV"],[1940.9,.210,"KY"],[1941.7,.238,"WV"],
  [1937.0,0,"WV"],[1938.1,0,"KY"],[1939.2,0,"IL"],[1940.4,0,"KY"],[1941.5,0,"KY"],[1942.6,0,"IL"],[1943.1,0,"WV"],
  [1937.5,.006,"KY"],[1938.7,.005,"KY"],[1939.9,.007,"IL"],[1941.0,.006,"KY"],[1942.2,.005,"IN"],
  [1936.9,.013,"WV"],[1938.0,.014,"KY"],[1939.3,.012,"KY"],[1940.5,.013,"IL"],[1941.7,.015,"KY"],[1942.9,.012,"KY"],
  [1937.4,.021,"KY"],[1938.6,.022,"IL"],[1939.8,.020,"KY"],[1941.1,.021,"KY"],[1942.4,.023,"WV"],
  [1937.0,.030,"IL"],[1938.2,.031,"KY"],[1939.5,.029,"KY"],[1940.8,.030,"KY"],[1942.0,.032,"IL"],[1943.0,.029,"WV"],
  [1937.7,.039,"WV"],[1939.0,.038,"KY"],[1940.3,.040,"PA"],[1941.5,.037,"KY"],[1942.7,.039,"KY"],
  [1937.1,.050,"KY"],[1938.4,.051,"WV"],[1939.8,.049,"KY"],[1941.2,.052,"IL"],[1942.6,.050,"WV"],
  [1937.8,.061,"WV"],[1939.2,.062,"KY"],[1940.6,.060,"WV"],[1942.0,.063,"KY"],[1943.0,.061,"IN"],
  [1937.0,.072,"KY"],[1938.5,.073,"WV"],[1940.0,.071,"KY"],[1941.4,.074,"PA"],[1942.7,.072,"WV"],
  [1937.7,.084,"WV"],[1939.4,.085,"KY"],[1941.0,.083,"WV"],[1942.4,.086,"KY"],
  [1938.5,.094,"KY"],[1940.9,.096,"WV"],
  [1937.6,.003,"KY"],[1939.7,.002,"KY"],[1941.9,.003,"IL"],[1938.6,.017,"KY"],[1940.9,.017,"KY"],[1937.2,.026,"KY"],[1940.2,.025,"IL"],[1942.6,.026,"KY"],[1938.8,.034,"KY"],[1941.4,.034,"KY"],[1937.4,.045,"KY"],[1942.2,.044,"KY"],[1940.4,.056,"KY"],[1938.6,.066,"KY"],[1941.6,.078,"KY"],
  [1937.1,.009,"KY"],[1938.3,.010,"IL"],[1939.5,.009,"KY"],[1940.8,.010,"KY"],[1942.0,.009,"KY"],[1943.0,.008,"IL"],[1937.9,.028,"KY"],[1939.8,.018,"KY"],[1941.9,.018,"IL"],[1939.1,.045,"KY"],[1940.7,.047,"KY"]
];

// Annual county series, 1972-1997
const annual = [
  [1977.2,.790,"KY"],[1977.6,.777,"KY"],[1975.5,.755,"KY"],[1975.3,.747,"KY"],[1975.8,.732,"KY"],[1972.4,.717,"KY"],[1973.5,.717,"WV"],[1977.5,.710,"KY"],[1977.4,.699,"WV"],
  [1977.8,.578,"KY"],[1978.7,.551,"KY"],[1974.3,.538,"KY"],[1975.9,.537,"KY"],[1976.1,.527,"KY"],[1979.2,.523,"KY"],[1974.6,.511,"KY"],
  [1973.4,.482,"KY"],[1975.5,.486,"KY"],[1977.8,.479,"KY"],[1980.1,.477,"KY"],[1977.9,.471,"KY"],[1974.9,.470,"KY"],[1978.4,.455,"KY"],[1975.1,.443,"KY"],
  [1973.0,.430,"KY"],[1974.3,.430,"KY"],[1976.2,.434,"KY"],[1977.8,.428,"KY"],[1979.0,.434,"KY"],[1972.0,.417,"KY"],[1973.9,.410,"KY"],[1976.6,.418,"KY"],[1975.5,.423,"KY"],
  [1974.3,.400,"KY"],[1976.6,.397,"KY"],[1978.4,.398,"KY"],[1979.3,.386,"KY"],[1977.0,.389,"KY"],[1975.5,.389,"KY"],
  [1972.4,.371,"WV"],[1974.7,.374,"KY"],[1977.8,.371,"KY"],[1979.5,.382,"KY"],[1981.3,.360,"KY"],[1982.4,.354,"KY"],[1985.5,.352,"KY"],[1984.7,.348,"KY"],[1983.6,.339,"KY"],
  [1972.4,.333,"WV"],[1973.9,.329,"WV"],[1977.6,.328,"WV"],[1981.6,.324,"WV"],[1979.1,.341,"WV"],[1975.5,.341,"WV"],
  [1984.2,.311,"WV"],[1973.9,.307,"KY"],[1975.9,.322,"KY"],[1977.8,.315,"KY"],[1986.3,.292,"KY"],[1988.8,.294,"KY"],
  [1982.4,.285,"WV"],[1983.6,.281,"WV"],[1989.0,.276,"WV"],[1979.7,.281,"WV"],[1981.6,.262,"WV"],[1983.2,.259,"WV"],[1991.7,.251,"WV"],[1987.7,.259,"WV"],
  [1986.7,.257,"KY"],[1987.1,.248,"KY"],[1989.4,.233,"KY"],[1992.9,.233,"KY"],[1994.0,.236,"KY"],[1995.2,.239,"KY"],[1996.3,.218,"KY"],[1994.8,.199,"KY"],[1996.3,.197,"KY"],[1992.9,.218,"KY"],[1991.7,.240,"KY"],[1990.5,.210,"KY"],[1989.0,.203,"KY"],
  [1996.7,.221,"WV"],[1987.1,.229,"WV"],[1993.6,.222,"WV"],
  [1974.6,.277,"IL"],[1976.1,.266,"IL"],[1974.3,.259,"IN"],[1978.6,.250,"IN"],[1972.0,.236,"PA"],[1972.4,.127,"IL"],[1973.9,.164,"IL"],
  [1972.6,.262,"WV"],[1973.3,.250,"WV"],[1975.0,.298,"KY"],[1976.8,.285,"WV"],[1978.0,.266,"KY"],[1980.6,.297,"KY"],[1980.3,.250,"WV"],[1985.0,.268,"WV"],[1985.8,.242,"KY"],
  [1972.8,.232,"WV"],[1974.9,.233,"KY"],[1976.5,.231,"WV"],[1978.2,.232,"KY"],[1980.0,.233,"WV"],[1981.9,.231,"KY"],[1984.0,.232,"WV"],
  [1972.4,.225,"KY"],[1974.0,.225,"WV"],[1975.8,.224,"KY"],[1977.6,.226,"WV"],[1979.5,.225,"KY"],[1982.8,.224,"WV"],
  [1972.3,.218,"KY"],[1973.8,.219,"WV"],[1975.6,.217,"KY"],[1977.2,.218,"IL"],[1979.1,.219,"KY"],[1981.0,.217,"WV"],[1983.1,.218,"KY"],[1985.2,.219,"WV"],[1987.9,.217,"KY"],
  [1973.0,.211,"KY"],[1974.6,.211,"WV"],[1976.3,.212,"KY"],[1978.0,.210,"KY"],[1979.9,.211,"WV"],[1982.0,.212,"KY"],[1984.1,.210,"WV"],[1986.5,.211,"KY"],
  [1973.1,.204,"WV"],[1974.7,.205,"KY"],[1976.4,.203,"WV"],[1978.0,.204,"KY"],[1979.8,.205,"WV"],[1981.7,.203,"KY"],[1983.6,.204,"WV"],[1985.6,.205,"KY"],[1988.2,.203,"WV"],[1992.0,.204,"KY"],[1997.0,.205,"WV"],
  [1972.4,.197,"KY"],[1973.9,.196,"KY"],[1975.5,.198,"WV"],[1977.1,.197,"KY"],[1978.8,.196,"KY"],[1980.6,.198,"WV"],[1982.5,.197,"KY"],[1984.4,.196,"KY"],[1986.7,.198,"WV"],[1990.2,.197,"KY"],[1994.0,.196,"WV"],
  [1972.5,.190,"KY"],[1974.0,.191,"WV"],[1975.6,.189,"KY"],[1977.3,.190,"PA"],[1978.9,.191,"KY"],[1980.6,.189,"WV"],[1982.4,.190,"KY"],[1984.2,.191,"WV"],[1986.1,.189,"KY"],[1989.7,.191,"KY"],[1993.3,.190,"KY"],[1997.3,.189,"KY"],
  [1973.0,.183,"KY"],[1974.6,.182,"WV"],[1976.2,.184,"KY"],[1977.8,.183,"KY"],[1979.5,.182,"WV"],[1981.2,.184,"KY"],[1983.0,.183,"KY"],[1984.9,.182,"WV"],[1986.8,.184,"KY"],[1992.5,.184,"KY"],
  [1973.2,.176,"WV"],[1974.8,.177,"KY"],[1976.3,.175,"WV"],[1977.9,.176,"KY"],[1979.6,.177,"IL"],[1981.3,.175,"KY"],[1983.0,.176,"WV"],[1984.8,.177,"KY"],[1986.7,.175,"WV"],[1988.6,.176,"KY"],[1994.2,.176,"WV"],
  [1972.4,.169,"KY"],[1974.0,.170,"KY"],[1975.6,.168,"WV"],[1977.1,.169,"KY"],[1978.7,.170,"KY"],[1980.4,.168,"IL"],[1982.1,.169,"KY"],[1983.9,.170,"WV"],[1985.7,.168,"KY"],[1987.6,.169,"KY"],[1991.4,.168,"KY"],[1995.2,.170,"WV"],
  [1972.4,.162,"KY"],[1974.0,.163,"WV"],[1975.6,.161,"KY"],[1977.2,.162,"WV"],[1978.8,.163,"KY"],[1980.4,.161,"WV"],[1982.1,.162,"IN"],[1983.8,.163,"KY"],[1985.6,.161,"WV"],[1987.4,.162,"KY"],[1989.2,.163,"WV"],[1992.9,.162,"WV"],[1996.8,.161,"WV"],
  [1972.9,.155,"KY"],[1974.5,.156,"WV"],[1976.1,.154,"KY"],[1977.7,.155,"KY"],[1979.3,.156,"KY"],[1980.9,.154,"WV"],[1982.6,.155,"KY"],[1984.3,.156,"KY"],[1986.0,.154,"WV"],[1987.8,.155,"KY"],[1989.6,.156,"KY"],[1991.5,.154,"WV"],[1993.4,.155,"KY"],[1995.3,.156,"KY"],[1997.2,.154,"WV"],
  [1973.1,.148,"WV"],[1974.7,.149,"KY"],[1976.3,.147,"WV"],[1977.9,.148,"KY"],[1979.5,.149,"WV"],[1981.2,.147,"KY"],[1982.9,.148,"WV"],[1984.6,.149,"KY"],[1986.3,.147,"WV"],[1988.1,.148,"KY"],[1989.9,.149,"WV"],[1991.8,.147,"KY"],[1993.7,.148,"WV"],[1995.5,.149,"KY"],[1997.5,.147,"WV"],
  [1972.3,.141,"WV"],[1973.9,.142,"KY"],[1975.5,.140,"KY"],[1977.1,.141,"KY"],[1978.7,.142,"KY"],[1980.3,.140,"KY"],[1982.0,.141,"KY"],[1983.7,.142,"KY"],[1985.4,.140,"KY"],[1987.2,.141,"KY"],[1989.0,.142,"KY"],[1990.8,.140,"KY"],[1992.6,.141,"KY"],[1994.5,.142,"KY"],[1996.4,.140,"WV"],
  [1972.3,.134,"KY"],[1973.8,.135,"KY"],[1975.3,.133,"KY"],[1976.9,.134,"KY"],[1978.4,.135,"KY"],[1980.0,.133,"KY"],[1981.6,.134,"KY"],[1983.2,.135,"KY"],[1984.9,.133,"KY"],[1986.6,.134,"KY"],[1988.3,.135,"KY"],[1990.0,.133,"KY"],[1991.7,.134,"KY"],[1993.4,.135,"KY"],[1995.1,.133,"KY"],[1996.9,.134,"WV"],
  [1972.8,.127,"WV"],[1974.3,.128,"KY"],[1975.9,.126,"KY"],[1977.5,.127,"KY"],[1979.1,.128,"KY"],[1980.7,.126,"IL"],[1982.3,.127,"KY"],[1984.0,.128,"KY"],[1985.7,.126,"KY"],[1987.3,.127,"KY"],[1989.0,.128,"KY"],[1990.7,.126,"KY"],[1992.4,.127,"KY"],[1994.1,.128,"KY"],[1995.8,.126,"KY"],[1997.5,.127,"WV"],
  [1972.9,.120,"KY"],[1974.4,.121,"KY"],[1975.9,.119,"KY"],[1977.4,.120,"KY"],[1979.0,.121,"KY"],[1980.6,.119,"KY"],[1982.2,.120,"KY"],[1983.8,.121,"KY"],[1985.4,.119,"KY"],[1987.1,.120,"KY"],[1988.8,.121,"KY"],[1990.5,.119,"KY"],[1992.2,.120,"KY"],[1993.9,.121,"KY"],[1995.7,.119,"KY"],[1997.6,.120,"WV"],
  [1972.3,.113,"WV"],[1973.9,.114,"KY"],[1975.5,.112,"KY"],[1977.0,.113,"KY"],[1978.6,.114,"KY"],[1980.2,.112,"KY"],[1981.8,.113,"IL"],[1983.4,.114,"KY"],[1985.0,.112,"KY"],[1986.7,.113,"KY"],[1988.4,.114,"KY"],[1990.1,.112,"KY"],[1991.8,.113,"KY"],[1993.5,.114,"KY"],[1995.2,.112,"KY"],[1996.9,.113,"KY"],
  [1972.2,.107,"KY"],[1973.7,.108,"KY"],[1975.2,.106,"KY"],[1976.7,.107,"KY"],[1978.2,.108,"KY"],[1979.8,.106,"KY"],[1981.4,.107,"KY"],[1983.0,.108,"KY"],[1984.6,.106,"KY"],[1986.3,.107,"KY"],[1987.9,.108,"KY"],[1989.6,.106,"KY"],[1991.3,.107,"KY"],[1993.0,.108,"KY"],[1994.7,.106,"KY"],[1996.4,.107,"KY"],[1997.9,.108,"WV"],
  [1972.9,.100,"WV"],[1974.4,.101,"KY"],[1976.0,.099,"IL"],[1977.5,.100,"KY"],[1979.0,.101,"KY"],[1980.6,.099,"KY"],[1982.2,.100,"KY"],[1983.8,.101,"KY"],[1985.4,.099,"KY"],[1987.1,.100,"KY"],[1988.7,.101,"KY"],[1990.4,.099,"KY"],[1992.1,.100,"KY"],[1993.8,.101,"KY"],[1995.5,.099,"KY"],[1997.2,.100,"KY"],
  [1972.3,.094,"KY"],[1973.5,.095,"KY"],[1974.7,.093,"KY"],[1975.9,.094,"KY"],[1977.0,.095,"IL"],[1978.3,.094,"KY"],[1979.5,.093,"KY"],[1980.6,.094,"KY"],[1981.9,.095,"KY"],[1983.1,.094,"KY"],[1984.2,.093,"KY"],[1985.5,.094,"KY"],[1986.7,.095,"KY"],[1987.8,.094,"KY"],[1989.0,.093,"KY"],[1990.3,.094,"KY"],[1991.5,.095,"KY"],[1992.6,.094,"KY"],[1993.9,.093,"KY"],[1995.1,.094,"KY"],[1996.2,.095,"KY"],[1997.5,.094,"WV"],
  [1972.2,.090,"KY"],[1973.4,.090,"KY"],[1974.6,.089,"KY"],[1975.8,.090,"KY"],[1977.0,.090,"KY"],[1978.2,.089,"KY"],[1979.4,.090,"KY"],[1980.6,.090,"KY"],[1981.8,.089,"KY"],[1983.0,.090,"KY"],[1984.2,.090,"KY"],[1985.4,.089,"KY"],[1986.6,.090,"KY"],[1987.8,.090,"KY"],[1989.0,.089,"KY"],[1990.2,.090,"KY"],[1991.4,.090,"KY"],[1992.6,.089,"KY"],[1993.8,.090,"KY"],[1995.0,.090,"KY"],[1996.2,.089,"KY"],[1997.4,.090,"KY"],
  [1972.9,.085,"WV"],[1974.0,.084,"KY"],[1975.2,.086,"KY"],[1976.5,.085,"KY"],[1977.6,.084,"KY"],[1978.8,.086,"KY"],[1980.1,.085,"KY"],[1981.2,.084,"KY"],[1982.4,.086,"KY"],[1983.7,.085,"KY"],[1984.8,.084,"IN"],[1986.0,.086,"KY"],[1987.3,.085,"KY"],[1988.4,.084,"KY"],[1989.6,.086,"KY"],[1990.9,.085,"KY"],[1992.0,.084,"KY"],[1993.2,.086,"KY"],[1994.5,.085,"KY"],[1995.6,.084,"KY"],[1996.8,.086,"KY"],
  [1972.8,.080,"KY"],[1974.0,.080,"KY"],[1975.2,.081,"KY"],[1976.4,.080,"KY"],[1977.6,.080,"KY"],[1978.8,.081,"KY"],[1980.0,.080,"KY"],[1981.2,.080,"KY"],[1982.4,.081,"KY"],[1983.6,.080,"KY"],[1984.8,.080,"KY"],[1986.0,.081,"KY"],[1987.2,.080,"KY"],[1988.4,.080,"KY"],[1989.6,.081,"KY"],[1990.8,.080,"KY"],[1992.0,.080,"KY"],[1993.2,.081,"KY"],[1994.4,.080,"KY"],[1995.6,.080,"KY"],[1996.8,.081,"KY"],
  [1972.2,.075,"KY"],[1973.5,.076,"KY"],[1974.6,.074,"KY"],[1975.8,.075,"KY"],[1977.1,.076,"KY"],[1978.2,.075,"KY"],[1979.4,.074,"IL"],[1980.7,.075,"KY"],[1981.8,.076,"KY"],[1983.0,.075,"KY"],[1984.3,.074,"KY"],[1985.5,.075,"KY"],[1986.6,.076,"KY"],[1987.8,.075,"KY"],[1989.1,.074,"KY"],[1990.2,.075,"KY"],[1991.4,.076,"IL"],[1992.7,.075,"KY"],[1993.8,.074,"KY"],[1995.0,.075,"KY"],[1996.3,.076,"KY"],[1997.5,.075,"WV"],
  [1972.2,.071,"KY"],[1973.4,.071,"KY"],[1974.6,.070,"KY"],[1975.8,.071,"KY"],[1977.0,.071,"KY"],[1978.2,.070,"KY"],[1979.4,.071,"KY"],[1980.6,.071,"KY"],[1981.8,.070,"KY"],[1983.0,.071,"KY"],[1984.2,.071,"KY"],[1985.4,.070,"KY"],[1986.6,.071,"KY"],[1987.8,.071,"KY"],[1989.0,.070,"KY"],[1990.2,.071,"KY"],[1991.4,.071,"KY"],[1992.6,.070,"KY"],[1993.8,.071,"KY"],[1995.0,.071,"KY"],[1996.2,.070,"KY"],[1997.4,.071,"KY"],
  [1972.8,.066,"WV"],[1974.0,.065,"KY"],[1975.3,.067,"KY"],[1976.4,.066,"KY"],[1977.6,.065,"KY"],[1978.9,.067,"KY"],[1980.0,.066,"KY"],[1981.2,.065,"KY"],[1982.5,.066,"IL"],[1983.6,.067,"KY"],[1984.9,.066,"KY"],[1986.1,.065,"KY"],[1987.2,.066,"KY"],[1988.5,.067,"KY"],[1989.7,.066,"KY"],[1990.8,.065,"KY"],[1992.1,.066,"KY"],[1993.3,.067,"KY"],[1994.4,.066,"KY"],[1995.7,.065,"KY"],[1996.9,.066,"KY"],
  [1972.8,.061,"KY"],[1974.0,.061,"KY"],[1975.2,.062,"KY"],[1976.4,.061,"KY"],[1977.6,.061,"KY"],[1978.8,.062,"KY"],[1980.0,.061,"KY"],[1981.2,.061,"KY"],[1982.4,.062,"KY"],[1983.6,.061,"KY"],[1984.8,.061,"KY"],[1986.0,.062,"KY"],[1987.2,.061,"KY"],[1988.4,.061,"KY"],[1989.6,.062,"KY"],[1990.8,.061,"KY"],[1992.0,.061,"KY"],[1993.2,.062,"KY"],[1994.4,.061,"KY"],[1995.6,.061,"KY"],[1996.8,.062,"KY"],
  [1972.3,.056,"KY"],[1973.6,.057,"KY"],[1974.7,.055,"KY"],[1975.9,.056,"IN"],[1977.2,.057,"KY"],[1978.3,.056,"KY"],[1979.5,.055,"KY"],[1980.8,.056,"KY"],[1981.9,.057,"KY"],[1983.1,.056,"KY"],[1984.4,.055,"IL"],[1985.5,.056,"KY"],[1986.6,.057,"KY"],[1987.9,.056,"KY"],[1989.1,.055,"KY"],[1990.2,.056,"KY"],[1991.5,.057,"KY"],[1992.8,.056,"KY"],[1993.9,.055,"IL"],[1995.0,.056,"KY"],[1996.3,.057,"KY"],[1997.4,.056,"WV"],
  [1972.2,.052,"KY"],[1973.4,.052,"KY"],[1974.6,.051,"KY"],[1975.8,.052,"KY"],[1977.0,.052,"KY"],[1978.2,.051,"KY"],[1979.4,.052,"KY"],[1980.6,.052,"KY"],[1981.8,.051,"KY"],[1983.0,.052,"KY"],[1984.2,.052,"KY"],[1985.4,.051,"KY"],[1986.6,.052,"KY"],[1987.8,.052,"KY"],[1989.0,.051,"KY"],[1990.2,.052,"KY"],[1991.4,.052,"KY"],[1992.6,.051,"KY"],[1993.8,.052,"KY"],[1995.0,.052,"KY"],[1996.2,.051,"KY"],[1997.4,.052,"KY"],
  [1972.9,.047,"WV"],[1974.1,.046,"KY"],[1975.2,.048,"KY"],[1976.5,.047,"KY"],[1977.7,.046,"KY"],[1978.8,.048,"KY"],[1980.1,.047,"IL"],[1981.3,.046,"KY"],[1982.4,.048,"KY"],[1983.7,.047,"KY"],[1984.9,.046,"KY"],[1986.0,.047,"KY"],[1987.3,.048,"KY"],[1988.5,.047,"KY"],[1989.6,.046,"KY"],[1990.9,.047,"KY"],[1992.1,.048,"KY"],[1993.2,.047,"KY"],[1994.5,.046,"KY"],[1995.7,.047,"KY"],[1996.8,.048,"KY"],
  [1972.8,.042,"KY"],[1974.0,.042,"KY"],[1975.2,.043,"KY"],[1976.4,.042,"KY"],[1977.6,.042,"KY"],[1978.8,.043,"KY"],[1980.0,.042,"KY"],[1981.2,.042,"KY"],[1982.4,.043,"KY"],[1983.6,.042,"KY"],[1984.8,.042,"KY"],[1986.0,.043,"KY"],[1987.2,.042,"KY"],[1988.4,.042,"KY"],[1989.6,.043,"KY"],[1990.8,.042,"KY"],[1992.0,.042,"KY"],[1993.2,.043,"KY"],[1994.4,.042,"KY"],[1995.6,.042,"KY"],[1996.8,.043,"KY"],
  [1972.2,.037,"KY"],[1973.4,.038,"KY"],[1974.7,.036,"KY"],[1975.9,.037,"KY"],[1977.0,.038,"KY"],[1978.2,.037,"IL"],[1979.5,.036,"KY"],[1980.7,.037,"KY"],[1981.8,.038,"KY"],[1983.1,.037,"KY"],[1984.3,.036,"KY"],[1985.4,.037,"KY"],[1986.7,.038,"KY"],[1987.9,.037,"KY"],[1989.0,.036,"KY"],[1990.2,.037,"KY"],[1991.5,.038,"KY"],[1992.7,.037,"KY"],[1993.8,.036,"KY"],[1995.1,.037,"IL"],[1996.3,.038,"KY"],[1997.5,.037,"WV"],
  [1972.2,.033,"KY"],[1973.4,.033,"KY"],[1974.6,.032,"KY"],[1975.8,.033,"KY"],[1977.0,.033,"KY"],[1978.2,.032,"KY"],[1979.4,.033,"KY"],[1980.6,.033,"KY"],[1981.8,.032,"KY"],[1983.0,.033,"KY"],[1984.2,.033,"KY"],[1985.4,.032,"KY"],[1986.6,.033,"KY"],[1987.8,.033,"KY"],[1989.0,.032,"KY"],[1990.2,.033,"KY"],[1991.4,.033,"KY"],[1992.6,.032,"KY"],[1993.8,.033,"KY"],[1995.0,.033,"KY"],[1996.2,.032,"KY"],[1997.4,.033,"KY"],
  [1972.8,.028,"WV"],[1974.0,.027,"KY"],[1975.3,.029,"KY"],[1976.4,.028,"KY"],[1977.6,.027,"KY"],[1978.9,.029,"KY"],[1980.0,.028,"KY"],[1981.2,.027,"KY"],[1982.5,.028,"KY"],[1983.7,.029,"KY"],[1984.8,.028,"KY"],[1986.1,.027,"IN"],[1987.3,.029,"KY"],[1988.4,.028,"KY"],[1989.7,.027,"KY"],[1990.9,.028,"KY"],[1992.0,.029,"KY"],[1993.2,.028,"KY"],[1994.5,.027,"KY"],[1995.6,.028,"KY"],[1996.9,.029,"KY"],
  [1972.8,.023,"KY"],[1974.0,.023,"KY"],[1975.2,.024,"KY"],[1976.4,.023,"KY"],[1977.6,.023,"KY"],[1978.8,.024,"KY"],[1980.0,.023,"KY"],[1981.2,.023,"KY"],[1982.4,.024,"KY"],[1983.6,.023,"KY"],[1984.8,.023,"KY"],[1986.0,.024,"KY"],[1987.2,.023,"KY"],[1988.4,.023,"KY"],[1989.6,.024,"KY"],[1990.8,.023,"KY"],[1992.0,.023,"KY"],[1993.2,.024,"KY"],[1994.4,.023,"KY"],[1995.6,.023,"KY"],[1996.8,.024,"KY"],
  [1972.3,.018,"KY"],[1973.5,.019,"KY"],[1974.6,.017,"IL"],[1975.8,.018,"KY"],[1977.1,.019,"KY"],[1978.3,.017,"KY"],[1979.4,.018,"KY"],[1980.7,.019,"KY"],[1981.9,.018,"KY"],[1983.0,.017,"KY"],[1984.2,.019,"KY"],[1985.5,.018,"KY"],[1986.7,.017,"KY"],[1987.8,.018,"KY"],[1989.1,.019,"KY"],[1990.3,.018,"KY"],[1991.4,.017,"KY"],[1992.7,.018,"IL"],[1993.9,.019,"KY"],[1995.0,.018,"KY"],[1996.3,.017,"KY"],[1997.6,.018,"WV"],
  [1972.2,.014,"KY"],[1973.4,.014,"KY"],[1974.6,.013,"KY"],[1975.8,.014,"KY"],[1977.0,.014,"KY"],[1978.2,.013,"KY"],[1979.4,.014,"KY"],[1980.6,.014,"KY"],[1981.8,.013,"KY"],[1983.0,.014,"KY"],[1984.2,.014,"KY"],[1985.4,.013,"KY"],[1986.6,.014,"KY"],[1987.8,.014,"KY"],[1989.0,.013,"KY"],[1990.2,.014,"KY"],[1991.4,.014,"KY"],[1992.6,.013,"KY"],[1993.8,.014,"KY"],[1995.0,.014,"KY"],[1996.2,.013,"KY"],[1997.4,.014,"KY"],
  [1972.9,.009,"WV"],[1974.1,.008,"KY"],[1975.2,.010,"KY"],[1976.5,.009,"KY"],[1977.7,.008,"KY"],[1978.9,.010,"KY"],[1980.1,.009,"KY"],[1981.3,.008,"KY"],[1982.6,.009,"KY"],[1983.7,.010,"IL"],[1984.9,.009,"KY"],[1986.1,.008,"KY"],[1987.3,.010,"KY"],[1988.5,.009,"KY"],[1989.7,.008,"KY"],[1990.9,.009,"KY"],[1992.1,.010,"KY"],[1993.3,.009,"KY"],[1994.5,.008,"KY"],[1995.7,.010,"KY"],[1996.9,.009,"KY"],
  [1972.8,.005,"KY"],[1974.0,.004,"KY"],[1975.2,.005,"KY"],[1976.4,.004,"KY"],[1977.6,.005,"KY"],[1978.8,.004,"KY"],[1980.0,.005,"KY"],[1981.2,.004,"KY"],[1982.4,.005,"KY"],[1983.6,.004,"KY"],[1984.8,.005,"KY"],[1986.0,.004,"KY"],[1987.2,.005,"KY"],[1988.4,.004,"KY"],[1989.6,.005,"KY"],[1990.8,.004,"KY"],[1992.0,.005,"KY"],[1993.2,.004,"KY"],[1994.4,.005,"KY"],[1995.6,.004,"KY"],[1996.8,.005,"KY"],
  [1972.2,0,"KY"],[1973.4,0,"KY"],[1974.8,0,"KY"],[1975.9,0,"KY"],[1977.0,0,"IL"],[1978.4,0,"KY"],[1979.5,0,"KY"],[1980.6,0,"KY"],[1981.9,0,"KY"],[1983.2,0,"KY"],[1984.3,0,"KY"],[1985.4,0,"KY"],[1986.8,0,"KY"],[1987.9,0,"KY"],[1989.0,0,"KY"],[1990.3,0,"KY"],[1991.6,0,"IN"],[1992.7,0,"KY"],[1993.8,0,"KY"],[1995.1,0,"KY"],[1996.4,0,"KY"],[1997.6,0,"WV"]
];

const counties = [census1850, census1860, census1870, census1880, census1900, census1910, census1920, census1930, census1940, annual]
  .flat()
  .map(([year, share, state]) => ({year, share, state}));

// Point shapes in the style of R's pch 16, 17, 15, 3, 7, 8
const unit = size => Math.sqrt(size) * 0.4514;
const shapes = {
  IL: {draw(c, size) { const r = unit(size) * 1.06; c.moveTo(r, 0); c.arc(0, 0, r, 0, 2 * Math.PI); }},
  IN: {draw(c, size) { const u = unit(size) * 1.05; c.moveTo(0, -1.555 * u); c.lineTo(1.347 * u, 0.778 * u); c.lineTo(-1.347 * u, 0.778 * u); c.closePath(); }},
  KY: {draw(c, size) { const h = unit(size) * 1.04; c.rect(-h, -h, 2 * h, 2 * h); }},
  OH: {draw(c, size) { const h = unit(size) * Math.SQRT2; c.moveTo(-h, 0); c.lineTo(h, 0); c.moveTo(0, -h); c.lineTo(0, h); }},
  PA: {draw(c, size) { const h = unit(size); c.rect(-h, -h, 2 * h, 2 * h); c.moveTo(-h, -h); c.lineTo(h, h); c.moveTo(-h, h); c.lineTo(h, -h); }},
  WV: {draw(c, size) { const u = unit(size), h = u * Math.SQRT2; c.moveTo(-h, 0); c.lineTo(h, 0); c.moveTo(0, -h); c.lineTo(0, h); c.moveTo(-u, -u); c.lineTo(u, u); c.moveTo(-u, u); c.lineTo(u, -u); }}
};
const filled = new Set(["IL", "IN", "KY"]);
const paint = code => filled.has(code)
  ? {fill: "#000000", stroke: "none"}
  : {fill: "none", stroke: "#000000", strokeWidth: 1.1};
// Square markers sit edge to edge in the dense bands; drawing them crisp
// keeps anti-aliased seams from showing between neighbours.
const rendering = code => code === "KY" ? {shapeRendering: "crispEdges"} : {};

const fontFamily = '"Liberation Sans", Arial, Helvetica, sans-serif';

const plot = Plot.plot({
  width: 989,
  height: 488,
  marginLeft: 80,
  marginRight: 192.3,
  marginTop: 44.7,
  marginBottom: 56,
  style: {background: "#ffffff", fontFamily, color: "#333333"},
  x: {domain: [1839.59, 2005.41]},
  y: {domain: [-0.0396, 0.8259]},
  marks: [
    Plot.gridX(xMinorTicks, {stroke: "#EBEBEB", strokeOpacity: 1, strokeWidth: 0.55}),
    Plot.gridY(yMinorTicks, {stroke: "#EBEBEB", strokeOpacity: 1, strokeWidth: 0.55}),
    Plot.gridX(xTicks, {stroke: "#EBEBEB", strokeOpacity: 1, strokeWidth: 1.1}),
    Plot.gridY(yTicks, {stroke: "#EBEBEB", strokeOpacity: 1, strokeWidth: 1.1}),
    ...states.map(({code}) => Plot.dot(counties.filter(d => d.state === code), {
      x: "year", y: "share", r: 3.3, symbol: shapes[code], ...paint(code), ...rendering(code)
    })),
    Plot.frame({stroke: "#333333", strokeWidth: 1.1}),
    Plot.axisX(xTicks, {anchor: "bottom", tickSize: 4, tickPadding: 3, tickFormat: d3.format("d"), fontSize: 21, stroke: "#333333", fill: "#4D4D4D", label: null}),
    Plot.axisY(yTicks, {anchor: "left", tickSize: 4, tickPadding: 4, tickFormat: d3.format(".1f"), fontSize: 21, stroke: "#333333", fill: "#4D4D4D", label: null})
  ]
});

const chart = document.getElementById("chart");
chart.appendChild(plot);

// Title, axis titles and the shape legend
const overlay = d3.create("svg")
  .attr("width", 989).attr("height", 488)
  .style("pointer-events", "none")
  .style("font-family", fontFamily);

overlay.append("text").attr("x", 78).attr("y", 31)
  .attr("font-size", 33.3).attr("fill", "#000").text(titleText);

overlay.append("text").attr("x", 438.4).attr("y", 475)
  .attr("font-size", 25.5).attr("text-anchor", "middle").attr("fill", "#000").text(xLabel);

overlay.append("text").attr("transform", "translate(31.5,238.4) rotate(-90)")
  .attr("font-size", 27).attr("text-anchor", "middle").attr("fill", "#000").text(yLabel);

overlay.append("text").attr("x", 826.5).attr("y", 170)
  .attr("font-size", 24).attr("fill", "#000").text(legendTitle);

const legendSize = Math.PI * 9;
states.forEach(({code, name}, i) => {
  const cy = 200.7 + i * 19.2;
  const p = d3.path();
  shapes[code].draw(p, legendSize);
  const style = paint(code);
  overlay.append("path")
    .attr("transform", `translate(831.7,${cy})`)
    .attr("d", p.toString())
    .attr("fill", style.fill)
    .attr("stroke", style.stroke)
    .attr("stroke-width", style.strokeWidth || null);
  overlay.append("text").attr("x", 857.5).attr("y", cy + 7.2)
    .attr("font-size", 21).attr("fill", "#000").text(name);
});

chart.appendChild(overlay.node());
</script>
</body>
</html>
